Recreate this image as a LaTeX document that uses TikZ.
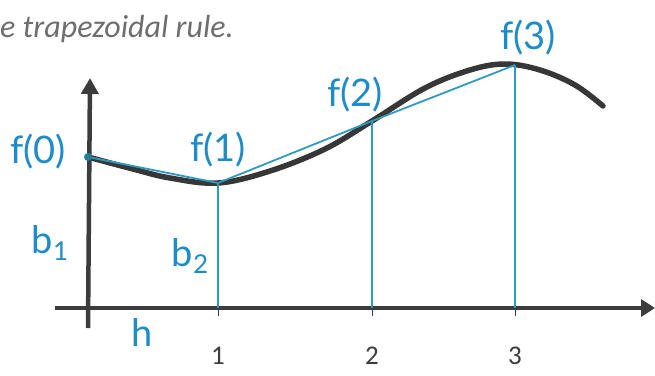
\documentclass[tikz,border=0pt]{standalone}
\usepackage{fontspec}
\setmainfont{Carlito}
\newfontfamily\handfont{Lato}
\usetikzlibrary{arrows.meta}
\definecolor{axisgray}{RGB}{60,60,60}
\definecolor{curvegray}{RGB}{55,55,55}
\definecolor{lineblue}{RGB}{45,155,190}
\definecolor{labelblue}{RGB}{30,140,200}
\definecolor{titlegray}{RGB}{110,110,110}
\newcommand{\subnum}[1]{{\fontsize{26}{28}\selectfont\raisebox{-7pt}{#1}}}
\tikzset{
  axis/.style={draw=axisgray, line width=4.5pt},
  tick/.style={draw=axisgray, line width=1pt},
  chord/.style={draw=lineblue, line width=1.8pt},
  curve/.style={draw=curvegray, line width=5.5pt, line cap=round},
  hand/.style={text=labelblue, font=\handfont\fontsize{38}{40}\selectfont, inner sep=0pt},
  numlbl/.style={text=axisgray, font=\fontsize{27}{29}\selectfont, inner sep=0pt, anchor=base},
}
\begin{document}
\begin{tikzpicture}[x=1pt,y=-1pt]
\useasboundingbox (0,0) rectangle (655,375);
% title
\node[anchor=base west, inner sep=0pt, text=titlegray, font=\itshape\fontsize{32}{34}\selectfont] (title) at (0,37) {e trapezoidal rule.};
% points
\coordinate (p0) at (88,157);
\coordinate (p1) at (218,183);
\coordinate (p2) at (372,121);
\coordinate (p3) at (515,65);
\coordinate (b1) at (218,308);
\coordinate (b2) at (372,308);
\coordinate (b3) at (515,308);
\coordinate (yb) at (88,328);
\coordinate (yt) at (90,78);
\coordinate (xl) at (55,308);
\coordinate (xr) at (655,308);
% axes
\draw[axis, -{Triangle[length=16pt,width=17pt]}] (yb) -- (yt);
\draw[axis, -{Triangle[length=14pt,width=17pt]}] (xl) -- (xr);
% ticks
\foreach \p in {b1,b2,b3}{
  \draw[tick] ([yshift=-8]\p) -- ([yshift=19]\p);
}
\node[numlbl] (n1) at (218,364) {1};
\node[numlbl] (n2) at (372,364) {2};
\node[numlbl] (n3) at (515,364) {3};
% curve
\draw[curve] plot[smooth, tension=0.6] coordinates {(88,157) (133,169) (170,178) (218,183) (270,171) (325,149) (372,121) (425,88) (470,70) (505,64) (540,70) (575,85) (603,106)};
% chords and verticals
\draw[chord] (p0) -- (p1) -- (p2) -- (p3);
\draw[chord] (p1) -- (b1);
\draw[chord] (p2) -- (b2);
\draw[chord] (p3) -- (b3);
\fill[lineblue!80!black] (p0) circle (4pt);
% labels
\node[hand] (f0) at (38,152) {f(0)};
\node[hand] (f1) at (218,150) {f(1)};
\node[hand] (f2) at (355,95) {f(2)};
\node[hand] (f3) at (528,38) {f(3)};
\node[hand] (bb1) at (50,243) {b\subnum{1}};
\node[hand] (bb2) at (190,256) {b\subnum{2}};
\node[hand] (hh) at (142,332) {h};
\end{tikzpicture}
\end{document}
